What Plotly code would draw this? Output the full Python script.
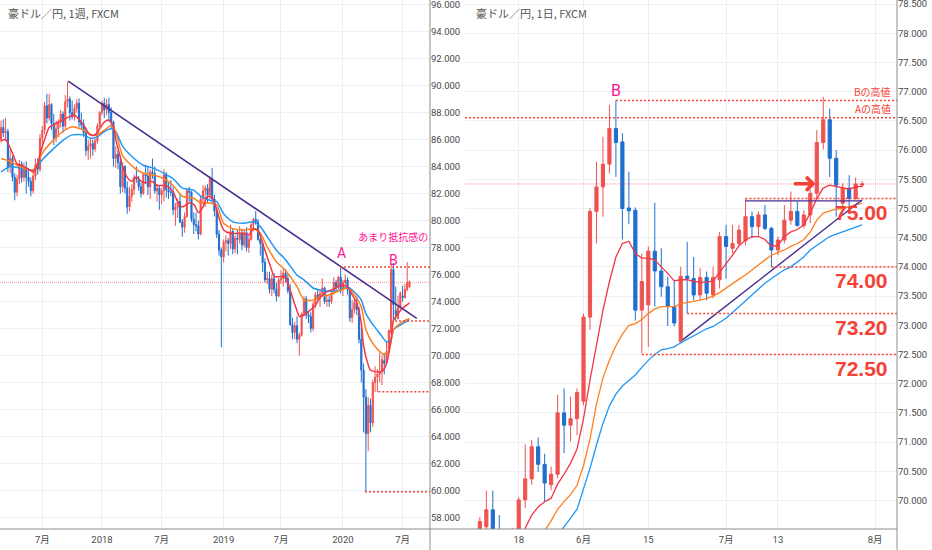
import pandas as pd
import plotly.graph_objects as go

# ---------------- colours ----------------
RED = "#EF5350"
BLUE = "#1E6FD0"
MA_RED = "#F23645"
MA_ORANGE = "#FF7F1E"
MA_BLUE = "#2196F3"
LEVEL = "#F44336"
PRICE_LINE = "rgba(242,54,69,0.55)"
PURPLE = "#4B2D8F"
PINK = "#FF1493"
GRID = "#EAF0F6"
AXIS = "#8C8C8C"
TXT = "#4A4A4A"

# ================= weekly (left) =================
w_dates = pd.date_range("2017-02-27", periods=179, freq="7D")

w_open = [
    86.0, 86.9, 86.5, 86.6, 84.0, 84.6, 83.2, 82.1, 83.1, 84.2,
    83.2, 83.9, 83.2, 82.9, 82.2, 83.3, 84.1, 83.8, 86.1, 86.7,
    88.5, 87.6, 88.6, 87.2, 86.1, 86.8, 87.3, 87.9, 87.0, 88.8,
    89.0, 88.0, 87.7, 88.3, 88.7, 87.3, 87.1, 86.5, 85.2, 85.5,
    85.7, 85.3, 85.9, 87.0, 88.0, 88.7, 88.2, 88.6, 88.0, 87.3,
    84.6, 84.9, 84.3, 82.5, 84.0, 82.4, 81.0, 81.8, 82.3, 83.2,
    83.1, 82.5, 82.0, 83.4, 83.3, 82.5, 83.6, 83.5, 82.2, 82.4,
    81.9, 82.2, 83.4, 82.3, 82.1, 82.1, 80.8, 81.0, 81.4, 79.9,
    79.5, 80.3, 82.2, 82.1, 80.1, 79.7, 79.6, 79.0, 81.6, 82.2,
    82.4, 81.9, 83.1, 81.6, 80.7, 79.0, 77.8, 77.3, 78.4, 78.5,
    78.3, 79.2, 77.9, 78.7, 78.6, 79.0, 78.2, 79.1, 78.0, 78.6,
    79.7, 80.1, 79.9, 78.6, 78.3, 76.9, 75.6, 75.7, 74.9, 75.7,
    74.9, 74.4, 75.6, 75.7, 76.1, 75.7, 74.8, 72.3, 71.7, 72.2,
    71.2, 71.5, 73.1, 74.2, 73.0, 72.9, 72.0, 73.8, 74.5, 74.2,
    74.6, 75.0, 74.0, 74.1, 74.0, 74.6, 75.4, 75.1, 75.8, 74.9,
    75.4, 75.6, 74.9, 72.8, 73.4, 73.9, 73.4, 71.2, 68.9, 66.9,
    64.2, 66.3, 65.0, 68.0, 68.4, 68.6, 68.8, 69.6, 69.45, 70.27,
    71.7, 76.37, 73.35, 72.72, 73.52, 74.4, 74.29, 74.89, 75.09,
]
w_high = [
    87.4, 87.5, 87.6, 86.8, 85.3, 84.8, 83.5, 83.4, 84.5, 84.4,
    84.3, 84.4, 83.9, 83.2, 83.6, 84.6, 84.6, 86.4, 87.0, 88.8,
    89.4, 89.4, 88.7, 87.9, 87.4, 87.5, 88.2, 88.1, 89.3, 90.3,
    89.2, 88.9, 88.6, 89.0, 89.06, 88.0, 87.5, 86.9, 86.0, 86.1,
    86.0, 86.1, 87.2, 88.1, 88.9, 89.1, 89.0, 89.1, 88.4, 87.4,
    85.5, 85.2, 84.6, 84.3, 84.1, 82.9, 82.5, 82.7, 83.4, 84.0,
    83.3, 82.8, 83.5, 84.1, 84.0, 83.8, 84.6, 84.0, 82.7, 82.6,
    82.4, 83.8, 83.6, 82.8, 83.0, 82.5, 81.3, 81.6, 82.0, 80.1,
    80.6, 82.4, 82.5, 82.2, 80.6, 80.6, 80.0, 81.8, 82.6, 82.6,
    82.7, 83.3, 83.9, 81.9, 81.0, 79.3, 78.0, 78.6, 78.9, 78.7,
    79.7, 79.4, 78.9, 79.3, 79.6, 79.4, 79.3, 79.5, 78.9, 79.8,
    80.2, 80.7, 80.1, 78.9, 78.5, 77.2, 76.2, 76.2, 76.0, 76.1,
    75.4, 75.8, 76.3, 76.5, 76.4, 76.0, 75.3, 72.8, 72.5, 72.9,
    71.7, 73.2, 74.4, 74.4, 73.3, 73.2, 74.0, 74.7, 74.9, 74.8,
    75.7, 75.1, 74.5, 74.4, 74.8, 75.8, 75.6, 75.9, 76.55, 75.6,
    76.0, 75.8, 75.0, 74.1, 74.2, 74.4, 73.6, 72.3, 69.4, 67.5,
    66.9, 66.8, 68.2, 69.2, 69.0, 70.2, 70.0, 70.2, 71.08, 71.92,
    76.77, 76.85, 75.1, 74.43, 74.72, 75.17, 75.29, 76.91, 75.57,
]
w_low = [
    85.8, 86.2, 85.9, 83.6, 83.5, 82.9, 81.5, 81.8, 82.7, 82.8,
    82.9, 82.0, 82.5, 81.8, 82.0, 83.0, 83.4, 83.6, 85.6, 86.4,
    87.2, 87.4, 86.7, 85.6, 85.8, 86.2, 86.9, 86.5, 86.8, 88.4,
    87.4, 87.5, 87.4, 88.0, 86.9, 86.8, 86.2, 84.8, 84.5, 84.6,
    84.8, 85.1, 85.7, 86.9, 87.8, 87.6, 87.8, 87.3, 86.8, 84.0,
    83.9, 83.8, 82.0, 82.1, 82.0, 80.5, 80.7, 81.4, 81.9, 82.8,
    82.2, 81.7, 81.9, 82.7, 81.9, 81.6, 83.1, 82.0, 81.4, 80.8,
    81.2, 81.4, 81.7, 81.6, 81.8, 80.4, 79.6, 80.2, 79.8, 78.8,
    79.1, 80.2, 81.4, 79.9, 79.0, 79.2, 78.6, 78.9, 81.2, 81.0,
    81.3, 81.6, 81.2, 80.3, 78.7, 77.4, 70.6, 76.9, 77.7, 77.4,
    77.9, 77.5, 77.6, 77.5, 78.3, 77.8, 78.0, 77.7, 77.6, 78.5,
    79.2, 79.7, 78.5, 77.4, 76.2, 75.4, 75.3, 74.6, 74.4, 74.6,
    74.0, 74.3, 75.3, 75.1, 75.4, 74.6, 72.2, 71.2, 71.2, 70.9,
    70.0, 71.4, 72.9, 72.7, 72.4, 71.7, 71.8, 73.5, 74.1, 73.6,
    74.4, 73.8, 73.6, 73.6, 73.8, 74.5, 74.8, 74.9, 74.6, 74.4,
    75.2, 74.5, 72.5, 72.4, 73.1, 73.0, 70.9, 68.0, 64.3, 59.9,
    62.9, 64.3, 64.7, 67.3, 67.3, 68.0, 67.8, 68.6, 69.3, 70.18,
    71.6, 72.5, 72.6, 72.69, 73.46, 74.0, 74.2, 74.75, 75.03,
]
w_close = [
    86.9, 86.5, 86.6, 84.0, 84.6, 83.2, 82.1, 83.1, 84.2, 83.2,
    83.9, 83.2, 82.9, 82.2, 83.3, 84.1, 83.8, 86.1, 86.7, 88.5,
    87.6, 88.6, 87.2, 86.1, 86.8, 87.3, 87.9, 87.0, 88.8, 89.0,
    88.0, 87.7, 88.3, 88.7, 87.3, 87.1, 86.5, 85.2, 85.5, 85.7,
    85.3, 85.9, 87.0, 88.0, 88.7, 88.2, 88.6, 88.0, 87.3, 84.6,
    84.9, 84.3, 82.5, 84.0, 82.4, 81.0, 81.8, 82.3, 83.2, 83.1,
    82.5, 82.0, 83.4, 83.3, 82.5, 83.6, 83.5, 82.2, 82.4, 81.9,
    82.2, 83.4, 82.3, 82.1, 82.1, 80.8, 81.0, 81.4, 79.9, 79.5,
    80.3, 82.2, 82.1, 80.1, 79.7, 79.6, 79.0, 81.6, 82.2, 82.4,
    81.9, 83.1, 81.6, 80.7, 79.0, 77.8, 77.3, 78.4, 78.5, 78.3,
    79.2, 77.9, 78.7, 78.6, 79.0, 78.2, 79.1, 78.0, 78.6, 79.7,
    80.1, 79.9, 78.6, 78.3, 76.9, 75.6, 75.7, 74.9, 75.7, 74.9,
    74.4, 75.6, 75.7, 76.1, 75.7, 74.8, 72.3, 71.7, 72.2, 71.2,
    71.5, 73.1, 74.2, 73.0, 72.9, 72.0, 73.8, 74.5, 74.2, 74.6,
    75.0, 74.0, 74.1, 74.0, 74.6, 75.4, 75.1, 75.8, 74.9, 75.4,
    75.6, 74.9, 72.8, 73.4, 73.9, 73.4, 71.2, 68.9, 66.9, 64.2,
    66.3, 65.0, 68.0, 68.4, 68.6, 68.8, 69.7, 69.4, 70.30, 71.85,
    76.37, 73.75, 73.04, 73.55, 74.63, 74.29, 74.89, 75.40, 75.42,
]

# weekly moving averages, read at sampled weeks (week index into w_dates)
w_ma_red_k = [0, 2, 5, 7, 10, 13, 14, 16, 17, 19, 21, 24, 27, 30, 32, 34, 37, 38, 40, 42,
              43, 45, 47, 49, 50, 52, 53, 55, 57, 59, 61, 63, 66, 68, 71, 73, 75, 77, 79, 82,
              84, 86, 88, 90, 92, 94, 95, 97, 100, 103, 106, 108, 110, 112, 114, 116, 118, 119, 122, 124,
              125, 127, 129, 130, 132, 135, 137, 139, 141, 143, 146, 148, 151, 153, 155, 157, 158, 160, 161, 163,
              166, 168, 170, 171, 173, 175, 178]
w_ma_red_v = [85.9, 86.0, 85.0, 84.2, 84.0, 83.7, 83.6, 84.2, 84.9, 86.0, 86.9, 87.2, 87.45, 87.7, 87.8, 87.5, 86.8, 86.5, 86.3, 86.5,
              86.8, 87.3, 87.45, 87.0, 86.0, 84.7, 84.0, 83.2, 82.9, 83.25, 82.9, 82.8, 82.9, 82.6, 82.6, 82.5, 82.1, 81.4, 81.0, 81.3,
              81.2, 80.6, 81.0, 81.8, 81.7, 80.8, 80.2, 79.3, 79.05, 79.05, 79.05, 78.95, 79.4, 79.3, 78.3, 77.3, 76.3, 75.85, 75.85, 75.8,
              75.35, 74.3, 73.3, 72.9, 73.0, 73.4, 73.7, 74.3, 74.6, 74.8, 75.0, 75.2, 75.1, 74.5, 73.9, 72.4, 70.7, 69.3, 68.9, 68.8,
              68.8, 69.4, 71.2, 72.6, 73.1, 73.5, 73.9]
w_ma_org_k = [0, 4, 8, 14, 18, 23, 27, 31, 36, 39, 42, 45, 48, 50, 53, 58, 62, 66, 71, 75,
              79, 84, 87, 91, 94, 97, 101, 106, 110, 113, 116, 120, 124, 129, 132, 136, 139, 143, 148, 151,
              154, 157, 159, 162, 165, 167, 169, 171, 173, 176, 178]
w_ma_org_v = [84.6, 84.4, 84.0, 83.75, 85.0, 86.0, 86.6, 86.95, 86.7, 86.35, 86.35, 86.7, 87.05, 86.5, 84.8, 83.9, 83.5, 83.4, 83.1, 82.6,
              81.8, 81.65, 81.3, 81.3, 81.15, 79.8, 79.4, 79.3, 79.4, 79.05, 78.05, 76.95, 76.3, 75.1, 74.1, 74.1, 74.35, 74.5, 74.85, 75.0,
              74.5, 73.6, 71.9, 70.9, 70.3, 70.05, 70.3, 71.9, 72.25, 72.6, 72.75]
w_ma_blu_k = [0, 4, 8, 14, 18, 23, 27, 31, 36, 39, 42, 45, 48, 50, 53, 58, 62, 66, 71, 75,
              79, 84, 87, 91, 94, 97, 101, 106, 110, 113, 116, 120, 124, 129, 132, 136, 139, 143, 148, 151,
              154, 157, 159, 162, 165, 168, 170, 171, 174, 178]
w_ma_blu_v = [83.6, 84.0, 83.9, 83.75, 84.5, 85.35, 85.95, 86.35, 86.35, 86.1, 86.2, 86.6, 86.8, 86.6, 85.5, 84.6, 84.1, 83.9, 83.5, 83.1,
              82.4, 82.25, 81.8, 81.5, 81.4, 80.5, 79.9, 79.8, 79.9, 79.55, 78.8, 77.8, 77.1, 75.95, 75.6, 75.0, 74.85, 74.75, 74.85, 75.1,
              74.7, 74.1, 73.1, 72.3, 71.65, 71.0, 71.15, 71.9, 72.25, 72.65]

w_trend_x = ["2017-09-20", "2020-08-18"]
w_trend_y = [90.34, 72.75]
w_levels = [76.55, 72.55, 67.3, 59.9]
w_level_start = ["2019-12-28", "2020-06-13", "2020-04-23", "2020-03-13"]
w_price = 75.42
w_range = ["2017-02-23 22:48", "2020-09-27 12:00"]
w_yrange = [57.134, 96.348]
w_tickvals = ["2017-07-03", "2018-01-01", "2018-07-02", "2019-01-07", "2019-07-01", "2020-01-06", "2020-07-06"]
w_ticktext = ["7月", "2018", "7月", "2019", "7月", "2020", "7月"]

# ================= daily (right) =================
d_dates = pd.bdate_range("2020-05-08", periods=60)   # index 6 == 2020-05-18
d_open = [69.50, 69.55, 69.84, 69.50, 69.20, 68.95,
          69.45, 70.01, 70.37, 70.92, 70.62, 70.27, 70.45, 71.50, 71.29, 71.40,
          71.70, 73.14, 74.95, 75.37, 75.76, 76.37, 76.14, 75.01, 74.97, 73.26,
          73.35, 74.27, 73.93, 73.66, 73.32, 72.72, 73.84, 73.80, 73.52, 73.82,
          73.52, 73.78, 74.52, 74.32, 74.40, 74.45, 74.86, 74.69, 74.89, 74.66,
          74.29, 74.46, 74.80, 74.95, 74.71, 74.89, 75.26, 76.13, 76.52, 75.86,
          75.09, 75.35, 75.17, 75.40]
d_high = [69.72, 70.17, 70.17, 69.75, 69.45, 69.53,
          70.06, 70.96, 71.04, 71.08, 70.80, 70.58, 71.81, 71.92, 71.78, 71.92,
          73.20, 75.00, 75.80, 76.23, 76.77, 76.85, 76.29, 75.63, 75.02, 74.23,
          74.35, 75.10, 74.32, 73.83, 73.78, 74.00, 74.43, 74.17, 73.98, 73.92,
          74.00, 74.60, 74.72, 74.72, 74.72, 75.17, 74.95, 74.95, 75.06, 74.69,
          74.52, 75.06, 75.29, 75.12, 74.97, 75.32, 76.34, 76.91, 76.71, 76.00,
          75.43, 75.57, 75.53, 75.47]
d_low = [69.30, 69.40, 69.25, 69.00, 68.60, 68.85,
         69.35, 69.87, 70.27, 70.49, 69.98, 70.18, 70.38, 70.81, 71.01, 71.12,
         71.63, 72.92, 74.40, 74.86, 75.60, 75.54, 74.47, 74.73, 73.08, 72.52,
         72.63, 73.32, 73.49, 72.99, 72.98, 72.69, 73.20, 73.43, 73.43, 73.43,
         73.46, 73.63, 73.80, 74.23, 74.35, 74.37, 74.49, 74.52, 74.63, 74.00,
         74.20, 74.40, 74.72, 74.69, 74.66, 74.75, 75.17, 76.01, 75.54, 74.86,
         75.03, 75.03, 75.15, 75.36]
d_close = [69.64, 69.84, 69.50, 69.20, 68.95, 69.40,
           70.01, 70.37, 70.92, 70.62, 70.30, 70.45, 71.50, 71.29, 71.40, 71.85,
           73.14, 74.95, 75.37, 75.76, 76.37, 76.13, 75.00, 74.96, 73.26, 73.75,
           74.27, 73.93, 73.66, 73.32, 73.04, 73.84, 73.80, 73.52, 73.82, 73.55,
           73.82, 74.52, 74.35, 74.40, 74.63, 74.86, 74.69, 74.89, 74.66, 74.29,
           74.46, 74.80, 74.95, 74.71, 74.89, 75.26, 76.13, 76.52, 75.86, 75.40,
           75.35, 75.17, 75.42, 75.42]

# daily moving averages (one value per candle, starting at the given position in d_dates)
d_ma_red_start = 6
d_ma_red = [69.30, 69.52, 69.75, 69.89, 69.98, 70.04, 70.28, 70.45, 70.64, 70.88,
            71.40, 72.06, 72.69, 73.26, 73.75, 74.17, 74.40, 74.44, 74.23, 74.15,
            74.15, 74.12, 74.00, 73.89, 73.76, 73.78, 73.78, 73.75, 73.74, 73.74,
            73.76, 73.90, 74.05, 74.20, 74.36, 74.46, 74.52, 74.52, 74.47, 74.35,
            74.37, 74.52, 74.60, 74.64, 74.72, 74.92, 75.17, 75.35, 75.40, 75.38,
            75.35, 75.33, 75.37, 75.38]
d_ma_org_start = 9
d_ma_org = [69.35, 69.48, 69.65, 69.85, 69.98, 70.10, 70.26,
            70.60, 71.05, 71.65, 72.10, 72.40, 72.65, 72.85, 73.00, 73.03, 73.10,
            73.20, 73.28, 73.32, 73.32, 73.32, 73.37, 73.39, 73.40, 73.43, 73.46,
            73.50, 73.56, 73.64, 73.71, 73.79, 73.86, 73.95, 74.03, 74.12, 74.20,
            74.24, 74.29, 74.35, 74.40, 74.47, 74.60, 74.80, 74.92, 74.96, 74.99,
            75.00, 75.03, 75.06, 75.09]
d_ma_blu_start = 12
d_ma_blu = [69.40, 69.56, 69.70, 69.85,
            70.18, 70.55, 70.95, 71.32, 71.62, 71.82, 71.96, 72.06, 72.15, 72.28,
            72.40, 72.50, 72.58, 72.60, 72.63, 72.70, 72.76, 72.83, 72.89, 72.94,
            72.98, 73.05, 73.12, 73.22, 73.32, 73.42, 73.52, 73.62, 73.72, 73.80,
            73.88, 73.95, 74.00, 74.08, 74.17, 74.29, 74.37, 74.45, 74.52, 74.56,
            74.60, 74.64, 74.68, 74.72]

d_rise_x = ["2020-06-22 07:00", "2020-07-30"]
d_rise_y = [72.75, 75.15]
d_flat_x = ["2020-07-06", "2020-07-30"]
d_flat_y = [75.13, 75.13]
d_levels = [76.85, 76.555, 75.17, 74.00, 73.20, 72.50]
d_level_start = ["2020-06-08", None, "2020-07-06", "2020-07-10", "2020-06-23", "2020-06-12"]
d_price = 75.42
d_range = ["2020-05-05 17:00", "2020-08-06 09:10"]
d_yrange = [69.512, 78.570]
d_tickvals = ["2020-05-18", "2020-06-01", "2020-06-15", "2020-07-01", "2020-07-13", "2020-08-03"]
d_ticktext = ["18", "6月", "15", "7月", "13", "8月"]
big_labels = ["75.00", "74.00", "73.20", "72.50"]
big_label_y = [74.93, 73.77, 72.96, 72.26]

# ================= figure =================
W, H = 932, 550
PLOT_H = 529
L_RIGHT = 430 / W
R_LEFT = 465 / W
R_RIGHT = 897 / W

fig = go.Figure()


def candles(x, o, h, l, c, xa, ya):
    return go.Candlestick(
        x=x, open=o, high=h, low=l, close=c, xaxis=xa, yaxis=ya,
        increasing=dict(line=dict(color=RED, width=1), fillcolor=RED),
        decreasing=dict(line=dict(color=BLUE, width=1), fillcolor=BLUE),
        showlegend=False, hoverinfo="skip")


def line(x, y, xa, ya, color, width, dash="solid", shape="linear"):
    return go.Scatter(x=x, y=y, xaxis=xa, yaxis=ya, mode="lines",
                      line=dict(color=color, width=width, dash=dash, shape=shape,
                                smoothing=0.6 if shape == "spline" else None),
                      showlegend=False, hoverinfo="skip")


# ---- weekly traces
fig.add_trace(line(w_range, [w_price, w_price], "x", "y", PRICE_LINE, 1, "1px,1px"))
fig.add_trace(candles(w_dates, w_open, w_high, w_low, w_close, "x", "y"))
for ks, vs, col in [(w_ma_blu_k, w_ma_blu_v, MA_BLUE), (w_ma_org_k, w_ma_org_v, MA_ORANGE),
                    (w_ma_red_k, w_ma_red_v, MA_RED)]:
    fig.add_trace(line([w_dates[k] for k in ks], vs, "x", "y", col, 1.5, shape="spline"))
fig.add_trace(line(w_trend_x, w_trend_y, "x", "y", PURPLE, 1.6))
for lv, st in zip(w_levels, w_level_start):
    fig.add_trace(line([st, w_range[1]], [lv, lv], "x", "y", LEVEL, 1.5, "2px,2px"))
fig.add_trace(go.Scatter(x=["2020-02-22"], y=[78.68], xaxis="x", yaxis="y", mode="text",
                         text=["あまり抵抗感の"], textposition="middle right", cliponaxis=True,
                         textfont=dict(family="Noto Sans CJK JP", size=10, color=PINK),
                         showlegend=False, hoverinfo="skip"))

# ---- daily traces
fig.add_trace(line(d_range, [d_price, d_price], "x2", "y2", PRICE_LINE, 1, "1px,1px"))
fig.add_trace(candles(d_dates, d_open, d_high, d_low, d_close, "x2", "y2"))
for start, vs, col in [(d_ma_blu_start, d_ma_blu, MA_BLUE), (d_ma_org_start, d_ma_org, MA_ORANGE),
                       (d_ma_red_start, d_ma_red, MA_RED)]:
    fig.add_trace(line(list(d_dates[start:start + len(vs)]), vs, "x2", "y2", col, 1.3))
fig.add_trace(line(d_rise_x, d_rise_y, "x2", "y2", PURPLE, 1.4))
fig.add_trace(line(d_flat_x, d_flat_y, "x2", "y2", PURPLE, 1.4))
for lv, st in zip(d_levels, d_level_start):
    fig.add_trace(line([st or d_range[0], d_range[1]], [lv, lv], "x2", "y2", LEVEL, 1.5, "2px,2px"))

# ---- annotations
ann = []
ann.append(dict(xref="paper", yref="paper", x=6 / W, y=1 - 13.3 / PLOT_H, xanchor="left", yanchor="middle",
                text="豪ドル／円, 1週, FXCM", showarrow=False,
                font=dict(family="Noto Sans CJK JP", size=11, color="#555555")))
ann.append(dict(xref="paper", yref="paper", x=473.5 / W, y=1 - 13.3 / PLOT_H, xanchor="left", yanchor="middle",
                text="豪ドル／円, 1日, FXCM", showarrow=False,
                font=dict(family="Noto Sans CJK JP", size=11, color="#555555")))
ann.append(dict(xref="x", yref="y", x="2020-01-02", y=77.57, text="A", showarrow=False,
                font=dict(family="Roboto", size=14, color=PINK)))
ann.append(dict(xref="x", yref="y", x="2020-06-09", y=77.07, text="B", showarrow=False,
                font=dict(family="Roboto", size=14, color=PINK)))
ann.append(dict(xref="x2", yref="y2", x="2020-06-08", y=77.02, text="B", showarrow=False,
                font=dict(family="Roboto", size=16, color=PINK)))
ann.append(dict(xref="paper", yref="y2", x=893 / W, y=77.0, xanchor="right", text="Bの高値", showarrow=False,
                font=dict(family="Noto Sans CJK JP", size=10, color=LEVEL)))
ann.append(dict(xref="paper", yref="y2", x=893 / W, y=76.716, xanchor="right", text="Aの高値", showarrow=False,
                font=dict(family="Noto Sans CJK JP", size=10, color=LEVEL)))
for t, yv in zip(big_labels, big_label_y):
    ann.append(dict(xref="paper", yref="y2", x=890 / W, y=yv, xanchor="right", text="<b>" + t + "</b>",
                    showarrow=False, font=dict(family="Liberation Sans", size=21, color=LEVEL)))
ann.append(dict(xref="x2", yref="y2", x="2020-07-17 02:00", y=75.44, text="<b>➜</b>", showarrow=False,
                font=dict(family="DejaVu Sans", size=30, color=LEVEL)))

# ---- axis frame lines
shapes = [
    dict(type="line", xref="paper", yref="paper", x0=L_RIGHT, x1=L_RIGHT, y0=-(H - PLOT_H) / PLOT_H, y1=1,
         line=dict(color=AXIS, width=1)),
    dict(type="line", xref="paper", yref="paper", x0=R_RIGHT, x1=R_RIGHT, y0=-(H - PLOT_H) / PLOT_H, y1=1,
         line=dict(color=AXIS, width=1)),
    dict(type="line", xref="paper", yref="paper", x0=0, x1=R_RIGHT, y0=0, y1=0,
         line=dict(color=AXIS, width=1)),
]

tickfont = dict(family="Roboto, Noto Sans CJK JP", size=9.5, color=TXT)
common_x = dict(type="date", showgrid=True, gridcolor=GRID, gridwidth=1, zeroline=False, showline=False,
                ticks="", tickfont=tickfont, rangeslider=dict(visible=False), automargin=False, fixedrange=True,
                ticklabelstandoff=3, ticklabeloverflow="allow")
common_y = dict(showgrid=True, gridcolor=GRID, gridwidth=1, zeroline=False, showline=False, side="right",
                ticks="", tickfont=tickfont, tickformat=".3f", automargin=False, fixedrange=True,
                ticklabeloverflow="allow")

fig.update_layout(
    width=W, height=H, template="none",
    paper_bgcolor="white", plot_bgcolor="white",
    margin=dict(l=0, r=0, t=0, b=H - PLOT_H, pad=0),
    showlegend=False,
    xaxis=dict(common_x, domain=[0, L_RIGHT], range=w_range, tickvals=w_tickvals, ticktext=w_ticktext,
               anchor="y"),
    yaxis=dict(common_y, domain=[0, 1], range=w_yrange, dtick=2, tick0=0, anchor="x"),
    xaxis2=dict(common_x, domain=[R_LEFT, R_RIGHT], range=d_range, tickvals=d_tickvals, ticktext=d_ticktext,
                rangebreaks=[dict(bounds=["sat", "mon"])], anchor="y2"),
    yaxis2=dict(common_y, domain=[0, 1], range=d_yrange, dtick=0.5, tick0=0, anchor="x2"),
    annotations=ann,
    shapes=shapes,
)

fig.write_html("out.html", config={"displayModeBar": False})
